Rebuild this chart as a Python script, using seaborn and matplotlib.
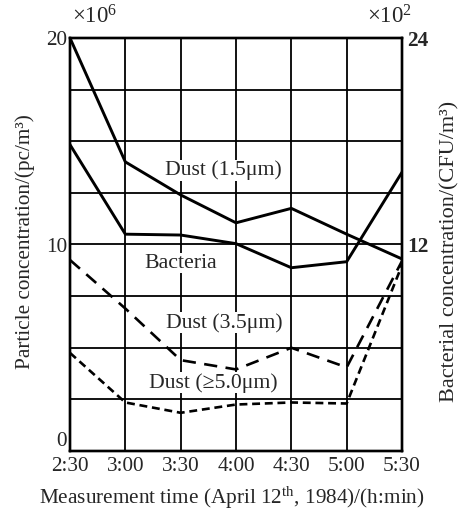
import numpy as np
import pandas as pd
import matplotlib
matplotlib.use("Agg")
import matplotlib.pyplot as plt
import matplotlib.transforms as mtransforms
import seaborn as sns

# Sampling times and measured series
times = ["2:30", "3:00", "3:30", "4:00", "4:30", "5:00", "5:30"]
dust_15 = [20.0, 14.0, 12.4, 11.05, 11.75, 10.5, 9.3]      # x10^6 pc/m3
dust_35 = [9.25, 6.9, 4.4, 3.95, 5.0, 4.05, 9.2]          # x10^6 pc/m3
dust_50 = [4.75, 2.35, 1.85, 2.25, 2.35, 2.3, 9.0]        # x10^6 pc/m3
bacteria = [17.8, 12.6, 12.55, 12.05, 10.65, 11.0, 16.2]  # x10^2 CFU/m3

left_ticks = [0, 10, 20]
right_ticks = [12, 24]

sns.set_theme(style="white")
plt.rcParams["font.family"] = ["Liberation Serif", "DejaVu Serif"]
plt.rcParams["mathtext.fontset"] = "custom"
plt.rcParams["mathtext.rm"] = "Liberation Serif"
plt.rcParams["mathtext.it"] = "Liberation Serif:italic"

FS = 15.3
x = np.arange(len(times))
df = pd.DataFrame({"x": x, "d15": dust_15, "d35": dust_35,
                   "d50": dust_50, "bac": bacteria})

fig = plt.figure(figsize=(4.58, 5.12), dpi=100)
ax = fig.add_axes([70 / 458, 1 - 451 / 512, 332 / 458, 413 / 512])
ax2 = ax.twinx()

lw = 2.1
sns.lineplot(data=df, x="x", y="d15", ax=ax, color="black", lw=lw)
sns.lineplot(data=df, x="x", y="d35", ax=ax, color="black", lw=lw - 0.2,
             dashes=False).lines[-1].set_dashes([5, 3.2])
sns.lineplot(data=df, x="x", y="d50", ax=ax, color="black", lw=lw - 0.2,
             dashes=False).lines[-1].set_dashes([3.0, 1.8])
sns.lineplot(data=df, x="x", y="bac", ax=ax2, color="black", lw=lw)

ax.set_xlim(0, len(times) - 1)
ax.set_ylim(0, 20)
ax2.set_ylim(0, 24)

# grid: one vertical per time, horizontal every 2.5 units
ax.set_xticks(x)
ax.set_xticklabels(times, fontsize=FS)
grid_y = np.arange(0, 20.01, 2.5)
ax.set_yticks(grid_y)
ax.set_yticklabels([f"{int(v)}" if v in left_ticks else "" for v in grid_y],
                   fontsize=FS)
zero_lbl = ax.get_yticklabels()[0]
zero_lbl.set_verticalalignment("bottom")
zero_lbl.set_transform(zero_lbl.get_transform() +
                       mtransforms.ScaledTranslation(0, -2 / 72, fig.dpi_scale_trans))
ax.grid(True, color="black", lw=1.3)
ax.set_axisbelow(True)
ax.tick_params(axis="x", length=0, pad=4)
ax.tick_params(axis="y", length=0, pad=2)

ax2.set_yticks(right_ticks)
ax2.set_yticklabels([str(v) for v in right_ticks], fontsize=FS,
                    fontweight="bold")
ax2.tick_params(length=0, pad=4)
ax2.grid(False)

for a in (ax, ax2):
    for s in a.spines.values():
        s.set_color("black")
        s.set_linewidth(1.7)

ax.set_xlabel("Measurement time (April 12$^{\\rm th}$, 1984)/(h:min)",
              fontsize=FS)
ax.xaxis.set_label_coords(0.486, -0.082)
ax.set_ylabel("Particle concentration/(pc/m³)", fontsize=FS)
ax.yaxis.set_label_coords(-0.105, 0.506)
ax2.set_ylabel("Bacterial concentration/(CFU/m³)", fontsize=FS + 0.7)
ax2.yaxis.set_label_coords(1.115, 0.482)

box = dict(facecolor="white", edgecolor="none", pad=0.5)
ax.text(2.78, 13.6, "Dust (1.5μm)", ha="center", va="center", fontsize=FS + 0.4, bbox=box)
ax.text(2.0, 9.1, "Bacteria", ha="center", va="center", fontsize=FS + 0.4, bbox=box)
ax.text(2.78, 6.2, "Dust (3.5μm)", ha="center", va="center", fontsize=FS + 0.4, bbox=box)
ax.text(2.59, 3.3, "Dust (≥5.0μm)", ha="center", va="center", fontsize=FS + 0.4, bbox=box)

fig.text(95 / 458, 1 - 17 / 512, "$\\times10^6$", ha="center", va="center", fontsize=16.5)
fig.text(390 / 458, 1 - 17 / 512, "$\\times10^2$", ha="center", va="center", fontsize=16.5)

fig.savefig("out.png", dpi=100, facecolor="white")
